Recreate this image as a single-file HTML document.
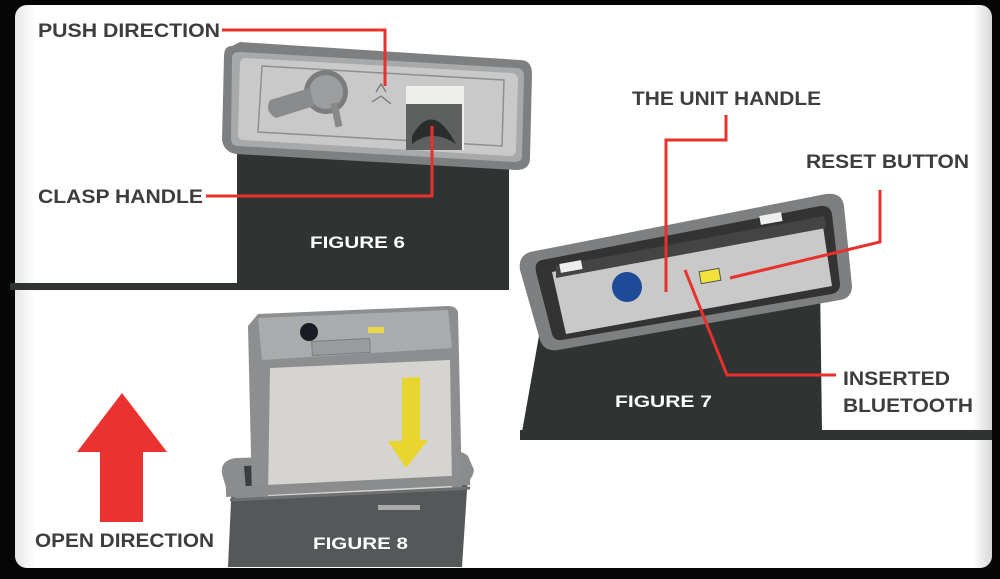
<!DOCTYPE html>
<html><head><style>
html,body{margin:0;padding:0;background:#000;width:1000px;height:579px;overflow:hidden}
svg{display:block}
text{font-family:"Liberation Sans",Arial,sans-serif;font-weight:bold}
</style></head><body>
<svg width="1000" height="579" viewBox="0 0 1000 579" xmlns="http://www.w3.org/2000/svg">
<defs>
<linearGradient id="pan" x1="0" y1="0" x2="1" y2="0">
<stop offset="0" stop-color="#e6e6e6"/><stop offset="0.02" stop-color="#fff"/><stop offset="0.98" stop-color="#fff"/><stop offset="1" stop-color="#d8d8d8"/>
</linearGradient>
</defs>
<rect x="0" y="0" width="1000" height="579" fill="#050505"/>
<rect x="15" y="5" width="977" height="563" rx="12" fill="url(#pan)"/>

<!-- Figure 6 -->
<rect x="10" y="283" width="230" height="7" fill="#2f3433"/>
<polygon points="237,150 509,160 509,290 237,290" fill="#2f3433"/>
<path d="M232,46 Q224,46 224,56 L222,140 Q224,152 236,154 L516,170 Q530,170 530,158 L532,74 Q532,60 520,60 L240,42 Z" fill="#7d7f80"/>
<path d="M240,52 L516,68 Q524,68 524,76 L522,156 Q522,162 514,162 L238,146 Q231,146 231,138 L232,58 Q232,52 240,52Z" fill="#a8a9aa"/>
<path d="M246,58 L512,73 Q518,74 518,80 L516,150 Q516,156 510,156 L244,140 Q238,140 238,134 L240,64 Q240,58 246,58Z" fill="#c9c9c9"/>
<path d="M262,66 L504,80 L502,146 L258,132 Z" fill="none" stroke="#8e8f90" stroke-width="1.5"/>
<circle cx="326" cy="92" r="22" fill="#7b7c7d"/><circle cx="326" cy="92" r="17" fill="#9c9d9e"/>
<path d="M270,100 L310,88 L314,106 L276,118 Q264,112 270,100Z" fill="#8a8b8c"/>
<rect x="333" y="103" width="7" height="24" fill="#888" transform="rotate(-12 336 115)"/>
<path d="M376,92 L381,84 L386,92 M372,102 L381,96 L391,104" fill="none" stroke="#777" stroke-width="1.3"/>
<rect x="406" y="86" width="58" height="64" fill="#eeeeec"/>
<rect x="406" y="104" width="56" height="46" fill="#5e6060"/>
<path d="M412,136 Q430,104 450,134 L456,144 Q432,128 412,144Z" fill="#2b2d2d"/>
<text x="310" y="248" font-size="17" fill="#fff" textLength="95" lengthAdjust="spacingAndGlyphs">FIGURE 6</text>

<!-- Figure 7 -->
<rect x="520" y="430" width="472" height="10" fill="#2f3433"/>
<polygon points="540,330 820,280 822,432 522,432" fill="#2f3433"/>
<path d="M530,252 L826,194 Q842,192 844,206 L852,286 Q852,298 840,300 L558,350 Q544,352 540,340 L520,270 Q518,256 530,252Z" fill="#7d7f80"/>
<path d="M542,260 L820,206 Q830,205 832,214 L840,284 Q840,292 832,294 L562,340 Q554,341 552,334 L536,272 Q534,262 542,260Z" fill="#333"/>
<path d="M552,272 L822,220 L832,286 L566,334 Z" fill="#c9c9c9"/>
<path d="M556,266 L824,216 L826,228 L556,278Z" fill="#444"/>
<rect x="560" y="262" width="22" height="9" fill="#eee" transform="rotate(-10 571 267)"/>
<rect x="760" y="214" width="22" height="9" fill="#eee" transform="rotate(-10 771 219)"/>
<circle cx="627" cy="287" r="15" fill="#1d4b97"/>
<rect x="700" y="270" width="20" height="12" fill="#f3e23a" stroke="#555" stroke-width="1" transform="rotate(-10 710 276)"/>
<text x="615" y="407" font-size="17" fill="#fff" textLength="97" lengthAdjust="spacingAndGlyphs">FIGURE 7</text>

<!-- Figure 8 -->
<polygon points="232,480 468,475 462,567 228,567" fill="#555859"/>
<path d="M236,458 Q220,460 222,474 L228,494 Q234,500 246,498 L456,486 Q472,484 474,470 L468,456 Q462,450 450,452Z" fill="#8a8c8d"/>
<path d="M244,466 L460,456 L462,478 L246,490Z" fill="#3a3c3d"/>
<path d="M258,314 L448,306 Q456,306 458,312 L462,490 L252,498 L248,326Z" fill="#8c8e8f"/>
<path d="M258,318 L448,310 L452,348 L262,360Z" fill="#a9abac"/>
<rect x="312" y="340" width="58" height="14" fill="#9a9c9d" stroke="#7c7e7f" transform="rotate(-3 340 347)"/>
<circle cx="309" cy="332" r="9" fill="#1a1c24"/>
<rect x="368" y="327" width="16" height="6" fill="#e8d84a"/>
<path d="M270,368 L450,360 L452,488 L268,496Z" fill="#d5d4d0"/>
<polygon points="402,378 420,377 420,440 428,440 406,468 388,441 402,441" fill="#e8d62e"/>
<path d="M226,492 L470,480" stroke="#8a8c8d" stroke-width="10" fill="none"/>
<path d="M230,500 L470,488" stroke="#6d6f70" stroke-width="3" fill="none"/>
<rect x="378" y="505" width="42" height="5" fill="#aaa"/>
<text x="313" y="549" font-size="17" fill="#fff" textLength="95" lengthAdjust="spacingAndGlyphs">FIGURE 8</text>

<!-- Red arrow -->
<polygon points="122,393 167,452 143,452 143,522 100,522 100,452 77,452" fill="#ea3330"/>

<!-- Red leader lines -->
<g fill="none" stroke="#e8302c" stroke-width="3">
<polyline points="222,30 385,30 385,86"/>
<polyline points="206,196 432,196 432,126"/>
<polyline points="726,115 726,140 666,140 666,292"/>
<polyline points="880,190 880,242 730,278"/>
<polyline points="685,270 727,375 836,375"/>
</g>

<!-- Labels -->
<g fill="#3b3d3e" font-size="19">
<text x="38" y="37" textLength="182" lengthAdjust="spacingAndGlyphs">PUSH DIRECTION</text>
<text x="38" y="203" textLength="165" lengthAdjust="spacingAndGlyphs">CLASP HANDLE</text>
<text x="632" y="105" textLength="189" lengthAdjust="spacingAndGlyphs">THE UNIT HANDLE</text>
<text x="806" y="168" textLength="163" lengthAdjust="spacingAndGlyphs">RESET BUTTON</text>
<text x="843" y="385" textLength="107" lengthAdjust="spacingAndGlyphs">INSERTED</text>
<text x="843" y="412" textLength="130" lengthAdjust="spacingAndGlyphs">BLUETOOTH</text>
<text x="35" y="547" textLength="179" lengthAdjust="spacingAndGlyphs">OPEN DIRECTION</text>
</g>
</svg>
</body></html>
